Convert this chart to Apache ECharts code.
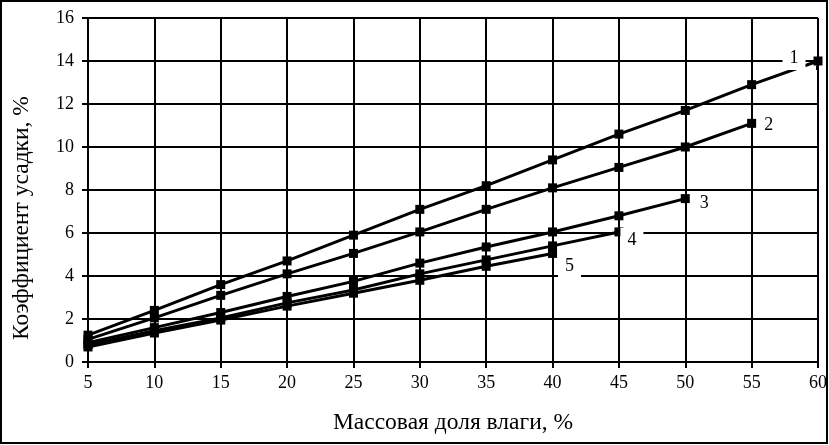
<!DOCTYPE html>
<html>
<head>
<meta charset="utf-8">
<script src="https://cdn.jsdelivr.net/npm/echarts@6/dist/echarts.min.js"></script>
<style>
  html, body { margin: 0; padding: 0; background: #fff; }
  #chart { width: 829px; height: 445px; }
</style>
</head>
<body>
<div id="chart"></div>
<script>
// влажность, %
const moisture = [5, 10, 15, 20, 25, 30, 35, 40, 45, 50, 55, 60]
// коэффициент усадки, % (кривые 1..5)
const curve1 = [1.25, 2.4, 3.6, 4.7, 5.9, 7.1, 8.2, 9.4, 10.6, 11.7, 12.9, 14.0]
const curve2 = [1.05, 2.05, 3.1, 4.1, 5.05, 6.05, 7.1, 8.1, 9.05, 10.0, 11.1]
const curve3 = [0.9, 1.6, 2.3, 3.05, 3.75, 4.6, 5.35, 6.05, 6.8, 7.6]
const curve4 = [0.8, 1.45, 2.05, 2.75, 3.35, 4.1, 4.75, 5.4, 6.05]
const curve5 = [0.7, 1.35, 1.95, 2.6, 3.2, 3.8, 4.45, 5.05]
const curveNames = ['1', '2', '3', '4', '5']

const font = 'Liberation Serif, Times New Roman, serif'

// смещение подписи кривой относительно последней точки
const labelOffsets = [[-24, -3], [17, 2], [19, 5], [13, 8], [17, 13]]

function buildData(values, idx) {
  return values.map((v, i) => {
    if (i !== values.length - 1) return [moisture[i], v]
    return {
      value: [moisture[i], v],
      label: {
        show: true,
        position: 'inside',
        offset: labelOffsets[idx],
        formatter: curveNames[idx],
        color: '#000',
        fontFamily: font,
        fontSize: 18,
        backgroundColor: '#fff',
        padding: [3, 7],
      },
    }
  })
}

const curves = [curve1, curve2, curve3, curve4, curve5]

var myChart = echarts.init(document.getElementById('chart'))
var option = {
  backgroundColor: '#fff',
  animation: false,
  grid: {
    left: 88,
    right: 11,
    top: 18,
    bottom: 83,
    outerBoundsMode: 'none',
  },
  xAxis: {
    type: 'value',
    min: 5,
    max: 60,
    interval: 5,
    name: 'Массовая доля влаги, %',
    nameLocation: 'middle',
    nameGap: 49,
    nameTextStyle: { color: '#000', fontFamily: font, fontSize: 23.5 },
    axisLine: { show: true, lineStyle: { color: '#000', width: 2 } },
    axisTick: { show: true, length: 6, lineStyle: { color: '#000', width: 2 } },
    axisLabel: { color: '#000', fontFamily: font, fontSize: 18, margin: 12 },
    splitLine: { show: true, lineStyle: { color: '#000', width: 2 } },
  },
  yAxis: {
    type: 'value',
    min: 0,
    max: 16,
    interval: 2,
    name: 'Коэффициент усадки, %',
    nameLocation: 'middle',
    nameGap: 54,
    nameTextStyle: { color: '#000', fontFamily: font, fontSize: 23.5, padding: [0, 56, 0, 0] },
    axisLine: { show: true, lineStyle: { color: '#000', width: 2 } },
    axisTick: { show: true, length: 6, lineStyle: { color: '#000', width: 2 } },
    axisLabel: { color: '#000', fontFamily: font, fontSize: 18, margin: 14 },
    splitLine: { show: true, lineStyle: { color: '#000', width: 2 } },
  },
  series: curves.map((c, idx) => ({
    type: 'line',
    name: curveNames[idx],
    data: buildData(c, idx),
    symbol: 'rect',
    symbolSize: 9,
    showAllSymbol: true,
    itemStyle: { color: '#000' },
    lineStyle: { color: '#000', width: 3 },
    labelLine: idx === 0 ? { show: true, lineStyle: { color: '#000', width: 2 } } : undefined,
    z: 3,
  })),
  graphic: [
    {
      type: 'rect',
      shape: { x: 1, y: 1, width: 826, height: 442 },
      style: { fill: 'none', stroke: '#000', lineWidth: 2 },
      silent: true,
    },
  ],
}

option && myChart.setOption(option)
window.addEventListener('resize', function () {
  myChart.resize()
})
</script>
</body>
</html>
